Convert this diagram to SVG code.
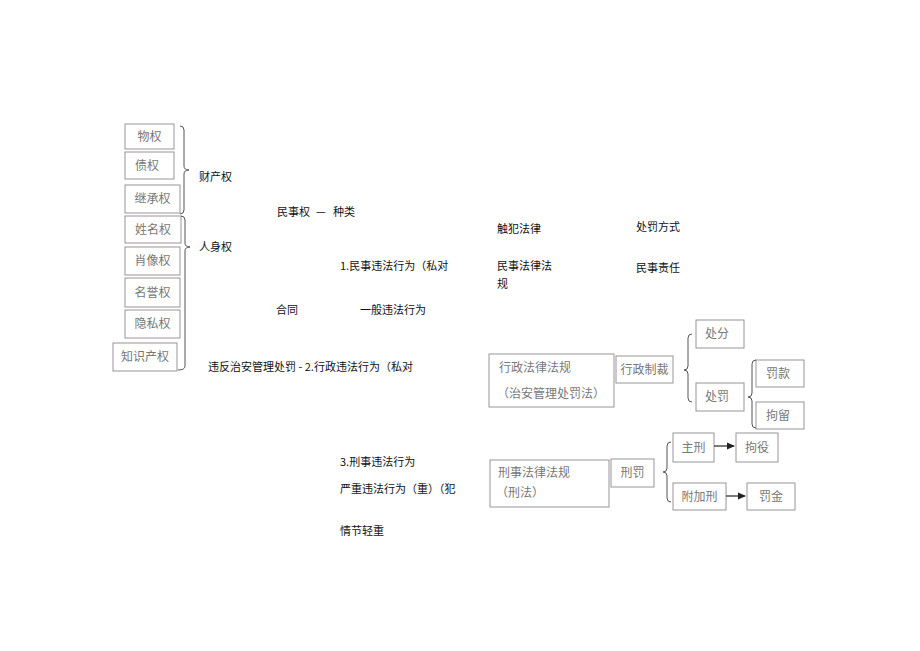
<svg xmlns="http://www.w3.org/2000/svg" width="920" height="651" viewBox="0 0 920 651">
<style>
.bx{fill:#fff;stroke:#9a939a;stroke-width:1}
.bt{font-family:"Noto Sans CJK SC","Liberation Sans",sans-serif;font-size:12px;fill:#777}
.t{font-family:"Noto Sans CJK SC","Liberation Sans",sans-serif;font-size:11px;fill:#111}
.br{fill:none;stroke:#555;stroke-width:1}
.ln{fill:none;stroke:#333;stroke-width:1.3}
</style>
<defs>
<marker id="ah" markerWidth="8" markerHeight="8" refX="7" refY="4" orient="auto" markerUnits="userSpaceOnUse">
<path d="M0,0.5 L8,4 L0,7.5 Z" fill="#222"/>
</marker>
</defs>
<rect width="920" height="651" fill="#fff"/>

<g id="n-wuquan"><rect class="bx" x="125" y="124" width="49" height="25"/><text class="bt" x="149.5" y="141" text-anchor="middle">物权</text></g>
<g id="n-zhaiquan"><rect class="bx" x="125" y="152" width="49" height="27"/><text class="bt" x="147" y="170" text-anchor="middle">债权</text></g>
<g id="n-jichengquan"><rect class="bx" x="125" y="185" width="55" height="28"/><text class="bt" x="152.5" y="203" text-anchor="middle">继承权</text></g>
<g id="n-xingmingquan"><rect class="bx" x="125" y="216" width="56" height="27"/><text class="bt" x="153" y="234" text-anchor="middle">姓名权</text></g>
<g id="n-xiaoxiangquan"><rect class="bx" x="125" y="247" width="55" height="28"/><text class="bt" x="152.5" y="265" text-anchor="middle">肖像权</text></g>
<g id="n-mingyuquan"><rect class="bx" x="125" y="278" width="55" height="29"/><text class="bt" x="152.5" y="297" text-anchor="middle">名誉权</text></g>
<g id="n-yinsiquan"><rect class="bx" x="125" y="310" width="55" height="28"/><text class="bt" x="152.5" y="328" text-anchor="middle">隐私权</text></g>
<g id="n-zhishichanquan"><rect class="bx" x="113" y="343" width="64" height="28"/><text class="bt" x="145" y="361" text-anchor="middle">知识产权</text></g>

<g id="labels">
<text class="t" x="199" y="181">财产权</text>
<text class="t" x="199" y="251">人身权</text>
<text class="t" x="277" y="216">民事权</text>
<text class="t" x="316" y="216">—</text>
<text class="t" x="333" y="216">种类</text>
<text class="t" x="340" y="270">1.民事违法行为（私对</text>
<text class="t" x="276" y="314">合同</text>
<text class="t" x="360" y="314">一般违法行为</text>
<text class="t" x="208" y="371">违反治安管理处罚 - 2.行政违法行为（私对</text>
<text class="t" x="497" y="233">触犯法律</text>
<text class="t" x="636" y="231">处罚方式</text>
<text class="t" x="497" y="270">民事法律法</text>
<text class="t" x="497" y="288">规</text>
<text class="t" x="636" y="272">民事责任</text>
<text class="t" x="340" y="466">3.刑事违法行为</text>
<text class="t" x="340" y="493">严重违法行为（重）（犯</text>
<text class="t" x="340" y="535">情节轻重</text>
</g>

<g id="n-xingzhengfagui"><rect class="bx" x="489" y="354" width="125" height="53"/><text class="bt" x="499" y="372">行政法律法规</text><text class="bt" x="497" y="398">（治安管理处罚法）</text></g>
<g id="n-xingzhengzhicai"><rect class="bx" x="616" y="356" width="57" height="27"/><text class="bt" x="644.5" y="374" text-anchor="middle">行政制裁</text></g>
<g id="n-chufen"><rect class="bx" x="696" y="320" width="48" height="28"/><text class="bt" x="717" y="338" text-anchor="middle">处分</text></g>
<g id="n-chufa"><rect class="bx" x="696" y="383" width="48" height="28"/><text class="bt" x="717" y="401" text-anchor="middle">处罚</text></g>
<g id="n-fakuan"><rect class="bx" x="756" y="360" width="48" height="27"/><text class="bt" x="778" y="378" text-anchor="middle">罚款</text></g>
<g id="n-juliu"><rect class="bx" x="756" y="402" width="48" height="27"/><text class="bt" x="778" y="420" text-anchor="middle">拘留</text></g>

<g id="n-xingshifagui"><rect class="bx" x="490" y="460" width="119" height="47"/><text class="bt" x="498" y="477">刑事法律法规</text><text class="bt" x="496" y="497">（刑法）</text></g>
<g id="n-xingfa"><rect class="bx" x="611" y="459" width="43" height="28"/><text class="bt" x="632.5" y="477" text-anchor="middle">刑罚</text></g>
<g id="n-zhuxing"><rect class="bx" x="673" y="433" width="41" height="29"/><text class="bt" x="693.5" y="452" text-anchor="middle">主刑</text></g>
<g id="n-juyi"><rect class="bx" x="736" y="433" width="42" height="29"/><text class="bt" x="757" y="452" text-anchor="middle">拘役</text></g>
<g id="n-fujiaxing"><rect class="bx" x="673" y="483" width="53" height="27"/><text class="bt" x="699.5" y="501" text-anchor="middle">附加刑</text></g>
<g id="n-fajin"><rect class="bx" x="747" y="483" width="48" height="27"/><text class="bt" x="771" y="501" text-anchor="middle">罚金</text></g>

<g id="connectors">
<path class="br" d="M180,126 Q184,126 184,130 L184,166 Q184,170 189,170 Q184,170 184,174 L184,210 Q184,214 180,214"/>
<path class="br" d="M181,216 Q185,216 185,220 L185,243 Q185,247 190,247 Q185,247 185,251 L185,366 Q185,370 178,370"/>
<path class="br" d="M692,334 Q688,334 688,338 L688,366 Q688,370 684,370 Q688,370 688,374 L688,398 Q688,402 692,402"/>
<path class="br" d="M756,360 Q752,360 752,364 L752,393 Q752,397 748,397 Q752,397 752,401 L752,424 Q752,428 756,428"/>
<path class="br" d="M671,442 Q667,442 667,446 L667,468 Q667,472 663,472 Q667,472 667,476 L667,498 Q667,502 671,502"/>
<line class="ln" x1="714" y1="446" x2="734" y2="446" marker-end="url(#ah)"/>
<line class="ln" x1="726" y1="496" x2="745" y2="496" marker-end="url(#ah)"/>
</g>
</svg>
